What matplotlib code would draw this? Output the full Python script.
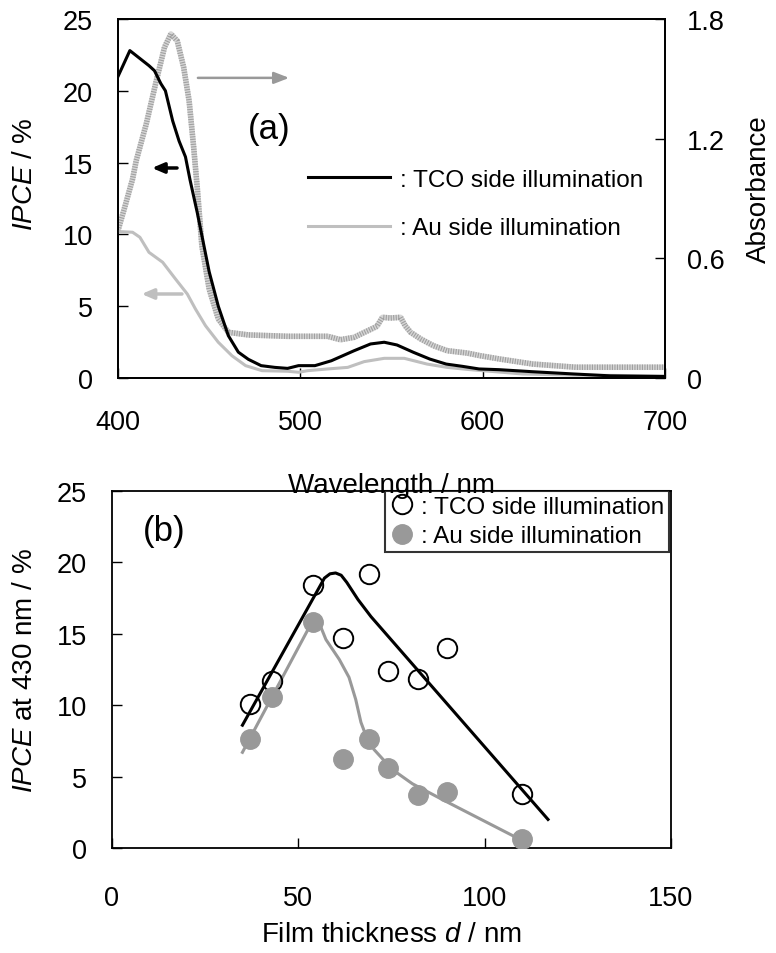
import matplotlib
matplotlib.use('Agg')
from matplotlib import pyplot as plt

plt.rcParams['font.family'] = ['Liberation Sans', 'DejaVu Sans']
plt.rcParams['mathtext.fontset'] = 'custom'
plt.rcParams['mathtext.rm'] = 'Liberation Sans'
plt.rcParams['mathtext.it'] = 'Liberation Sans:italic'

# ---- (a) IPCE spectra and absorbance ----
wl_tco = [400, 406.5, 413.5, 417, 420, 423.5, 426, 430, 433.5, 437, 439.5, 443.5, 450, 455, 460.5,
          466, 471.5, 478.5, 486, 493, 499, 508, 517, 529.5, 538.5, 546, 553, 562, 571, 580,
          589, 598, 609, 627, 650, 670, 700]
ipce_tco = [21.0, 22.8, 22.1, 21.75, 21.4, 20.5, 20.0, 17.9, 16.5, 15.4, 13.8, 11.5, 7.4, 5.0, 2.95,
            1.8, 1.3, 0.86, 0.74, 0.67, 0.86, 0.86, 1.2, 1.9, 2.37, 2.49, 2.3, 1.79, 1.32, 0.97,
            0.81, 0.63, 0.58, 0.44, 0.28, 0.15, 0.1]

wl_au = [400, 408, 412, 417, 424.5, 431.5, 438, 442.5, 448, 455, 462.5, 470, 479, 493, 499, 504,
         515, 526, 535, 546, 557, 569.5, 580.5, 591.5, 622, 650, 700]
ipce_au = [10.2, 10.15, 9.8, 8.75, 8.06, 6.9, 5.85, 4.8, 3.64, 2.49, 1.55, 0.86, 0.51, 0.47, 0.4, 0.51,
           0.63, 0.74, 1.14, 1.37, 1.37, 0.97, 0.74, 0.6, 0.28, 0.2, 0.15]

wl_abs = [400, 403.5, 408, 410, 415.5, 421, 425.5, 429, 432.5, 436, 439, 441.5, 443.5, 446, 450, 455,
          460.5, 471.5, 493, 515, 522, 529.5, 537, 542, 545, 549.5, 555, 557.5, 560.5, 566, 573,
          580.5, 591.5, 598.5, 609.5, 627.5, 651, 700]
absorb = [0.74, 0.85, 0.998, 1.09, 1.274, 1.49, 1.658, 1.725, 1.69, 1.558, 1.39, 1.157, 0.95, 0.663,
          0.446, 0.296, 0.229, 0.216, 0.209, 0.209, 0.192, 0.204, 0.237, 0.259, 0.304, 0.301, 0.304,
          0.262, 0.229, 0.196, 0.162, 0.137, 0.125, 0.112, 0.095, 0.07, 0.054, 0.054]

# ---- (b) IPCE at 430 nm vs film thickness ----
d_pts = [37, 43, 54, 62, 69, 74, 82, 90, 110]
ipce_tco_d = [10.1, 11.7, 18.4, 14.7, 19.2, 12.4, 11.8, 14.0, 3.8]
ipce_au_d = [7.6, 10.6, 15.8, 6.2, 7.6, 5.6, 3.7, 3.9, 0.6]

fit_tco_d = [35, 57, 58.5, 60, 61.5, 63, 66, 69.5, 117]
fit_tco = [8.6, 18.9, 19.2, 19.26, 19.1, 18.6, 17.4, 16.2, 2.0]
fit_au_d = [35, 53, 54.5, 56, 57.4, 61, 63.6, 65.4, 66.8, 68.1, 70.3, 75.2, 80.6, 88.6, 109.5]
fit_au = [6.7, 15.5, 15.85, 15.5, 14.6, 13.2, 11.95, 10.4, 8.8, 7.9, 6.9, 5.5, 4.5, 3.4, 0.6]

TICK = 19.5
LAB = 20
LEG = 17.5

fig = plt.figure(figsize=(7.76, 9.54), dpi=100)

# ===== panel (a) =====
ax = fig.add_axes([118/776, 1-379/954, 547/776, 359/954])
ax2 = ax.twinx()

ax.plot(wl_tco, ipce_tco, color='black', lw=2.2, label=': TCO side illumination', zorder=3)
ax.plot(wl_au, ipce_au, color='#bfbfbf', lw=2.2, label=': Au side illumination', zorder=2)
ax2.plot(wl_abs, absorb, color='#d6d6d6', lw=4, solid_capstyle='butt')
ax2.plot(wl_abs, absorb, color='#a0a0a0', lw=4, linestyle=(0, (0.2, 0.25)), dash_capstyle='butt')

ax.set_xlim(400, 700)
ax.set_ylim(0, 25)
ax2.set_ylim(0, 1.8)
ax.set_xticks([400, 500, 600, 700])
ax.set_yticks([0, 5, 10, 15, 20, 25])
ax2.set_yticks([0, 0.6, 1.2, 1.8])
ax2.set_yticklabels(['0', '0.6', '1.2', '1.8'])

ax.tick_params(direction='in', length=7, width=1, labelsize=TICK, pad=18)
ax.tick_params(axis='x', pad=22)
ax2.tick_params(direction='in', length=7, width=1, labelsize=TICK, pad=16)
for a in (ax, ax2):
    for s in a.spines.values():
        s.set_linewidth(1.3)
ax.set_zorder(ax2.get_zorder() + 1)
ax.patch.set_visible(False)

ax.set_xlabel('Wavelength / nm', fontsize=LAB)
ax.xaxis.set_label_coords(0.5, -0.262)
ax.set_ylabel(r'$IPCE$ / %', fontsize=LAB)
ax.yaxis.set_label_coords(-0.146, 0.57)
ax2.set_ylabel('Absorbance', fontsize=LAB)
ax2.yaxis.set_label_coords(1.148, 0.53)

ax.text(0.237, 0.694, '(a)', transform=ax.transAxes, fontsize=25, va='center', ha='left')

ax.legend(loc='center left', bbox_to_anchor=(0.347, 0.485), frameon=False, fontsize=LEG,
          handlelength=3.4, handletextpad=0.4, labelspacing=1.1, borderpad=0, borderaxespad=0)

# arrows pointing to the relevant axes
ax.annotate('', xy=(0.318, 0.836), xytext=(0.141, 0.836), xycoords='axes fraction',
            arrowprops=dict(arrowstyle='-|>,head_length=0.9,head_width=0.35', color='#999999', lw=1.8))
ax.annotate('', xy=(0.057, 0.585), xytext=(0.113, 0.585), xycoords='axes fraction',
            arrowprops=dict(arrowstyle='-|>,head_length=0.7,head_width=0.3', color='black', lw=2.5))
ax.annotate('', xy=(0.038, 0.234), xytext=(0.122, 0.234), xycoords='axes fraction',
            arrowprops=dict(arrowstyle='-|>,head_length=0.7,head_width=0.3', color='#bfbfbf', lw=2.5))

# ===== panel (b) =====
bx = fig.add_axes([112/776, 1-849/954, 559/776, 357/954])
bx.plot(fit_tco_d, fit_tco, color='black', lw=2.2, zorder=2)
bx.plot(fit_au_d, fit_au, color='#999999', lw=2.2, zorder=2)
bx.plot(d_pts, ipce_tco_d, 'o', ms=14, mfc='none', mec='black', mew=1.4,
        label=': TCO side illumination', zorder=3)
bx.plot(d_pts, ipce_au_d, 'o', ms=14, mfc='#999999', mec='#999999',
        label=': Au side illumination', zorder=3)

bx.set_xlim(0, 150)
bx.set_ylim(0, 25)
bx.set_xticks([0, 50, 100, 150])
bx.set_yticks([0, 5, 10, 15, 20, 25])
bx.tick_params(direction='in', length=7, width=1, labelsize=TICK, pad=18)
bx.tick_params(axis='x', pad=27)
for s in bx.spines.values():
    s.set_linewidth(1.3)

bx.set_xlabel(r'Film thickness $d$ / nm', fontsize=LAB)
bx.xaxis.set_label_coords(0.5, -0.205)
bx.set_ylabel(r'$IPCE$ at 430 nm / %', fontsize=LAB)
bx.yaxis.set_label_coords(-0.132, 0.5)

bx.text(0.055, 0.89, '(b)', transform=bx.transAxes, fontsize=25, va='center', ha='left')

leg = bx.legend(loc='upper right', bbox_to_anchor=(0.996, 1.0), fontsize=LEG, fancybox=False,
                edgecolor='black', handlelength=1.0, handletextpad=0.25, labelspacing=0.3,
                borderpad=0.2, borderaxespad=0)
leg.get_frame().set_linewidth(1.5)

fig.savefig('out.png', dpi=100)
